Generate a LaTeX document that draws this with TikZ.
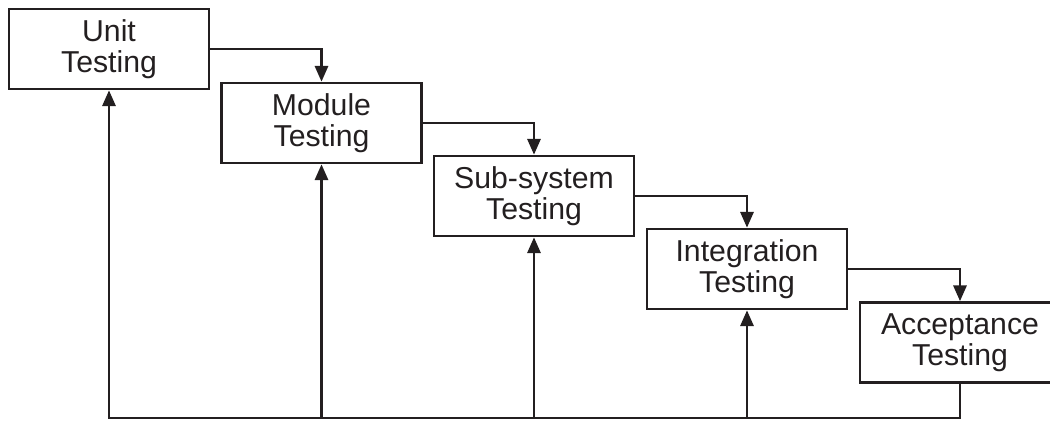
\documentclass[tikz,border=0pt]{standalone}
\usepackage{fontspec}
\setmainfont{Liberation Sans}
\usepackage{xcolor}
\usetikzlibrary{arrows.meta}
\definecolor{ink}{RGB}{35,31,32}
\tikzset{>={Triangle[length=9pt,width=7.5pt]}}
\tikzset{
	stage/.style={draw=ink, line width=1.5pt, minimum width=4cm, minimum height=1.6cm,
			align=center, text=ink, font=\fontsize{17.2}{17.8}\selectfont, inner sep=0pt},
	flow/.style={draw=ink, line width=1.5pt}
}
\begin{document}
\begin{tikzpicture}
	\useasboundingbox (0,0) rectangle (21,8.42);
	\node[stage] (unit) at (2.18,7.44) {Unit\\Testing};
	\node[stage] (module) at (6.43,5.96) {Module\\Testing};
	\node[stage] (subsys) at (10.68,4.5) {Sub-system\\Testing};
	\node[stage] (integ) at (14.94,3.04) {Integration\\Testing};
	\node[stage] (accept) at (19.2,1.57) {Acceptance\\Testing};
	\coordinate (base) at (0,0.06);
	% forward steps
	\draw[flow, ->] (unit.east) -| (module.north);
	\draw[flow, ->] (module.east) -| (subsys.north);
	\draw[flow, ->] (subsys.east) -| (integ.north);
	\draw[flow, ->] (integ.east) -| (accept.north);
	% feedback along the bottom
	\draw[flow, ->] (accept.south) |- (unit.south |- base) -- (unit.south);
	\draw[flow, ->] (module.south |- base) -- (module.south);
	\draw[flow, ->] (subsys.south |- base) -- (subsys.south);
	\draw[flow, ->] (integ.south |- base) -- (integ.south);
\end{tikzpicture}
\end{document}
